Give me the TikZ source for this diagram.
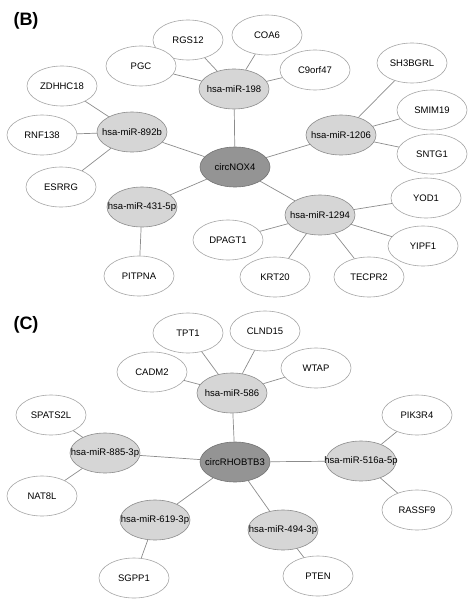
\documentclass[tikz,border=0pt]{standalone}
\usepackage{fontspec}
\setmainfont{Liberation Sans}
\usetikzlibrary{shapes.geometric}

\begin{document}
\begin{tikzpicture}[
    x=1pt, y=-1pt,
    font=\fontsize{9.5}{11}\selectfont,
    basenode/.style={ellipse, minimum width=70pt, minimum height=40pt, inner sep=0pt, line width=0.6pt},
    leaf/.style={basenode, fill=white, draw=black!35},
    mirna/.style={basenode, fill=black!16, draw=black!45},
    circ/.style={basenode, fill=black!42, draw=black!55},
    link/.style={draw=black!45, line width=0.7pt},
    paneltag/.style={font=\bfseries\fontsize{18}{21}\selectfont},
]
\useasboundingbox (0,0) rectangle (474,607);

% ===== Panel (B) =====
\node[paneltag] (tagB) at (26,21) {(B)};
\node[circ] (cnox) at (235,167) {\makebox[0pt]{circNOX4}};

% miRNA ring
\foreach \n/\x/\y/\t in {m198/234/89/hsa-miR-198, m892b/132/132/hsa-miR-892b,
                         m1206/341/135/hsa-miR-1206, m431/142/207/hsa-miR-431-5p,
                         m1294/320/215/hsa-miR-1294} {
    \node[mirna] (\n) at (\x,\y) {\makebox[0pt]{\t}};
    \draw[link] (cnox) -- (\n);
}

% target genes
\foreach \n/\x/\y/\p in {RGS12/188/40/m198, COA6/267/35/m198, PGC/141/66/m198,
                         C9orf47/315/70/m198, ZDHHC18/62/86/m892b, RNF138/42/135/m892b,
                         ESRRG/61/187/m892b, SH3BGRL/412/63/m1206, SMIM19/432/110/m1206,
                         SNTG1/432/154/m1206, PITPNA/139/276/m431, YOD1/426/198/m1294,
                         YIPF1/423/246/m1294, DPAGT1/228/240/m1294, KRT20/275/277/m1294,
                         TECPR2/369/277/m1294} {
    \node[leaf] (\n) at (\x,\y) {\n};
    \draw[link] (\p) -- (\n);
}

% ===== Panel (C) =====
\node[paneltag] (tagC) at (26,325) {(C)};
\node[circ] (crhob) at (235,462) {\makebox[0pt]{circRHOBTB3}};

\foreach \n/\x/\y/\t in {m586/232/393/hsa-miR-586, m885/105/453/hsa-miR-885-3p,
                         m516a/361/461/hsa-miR-516a-5p, m619/155/520/hsa-miR-619-3p,
                         m494/283/530/hsa-miR-494-3p} {
    \node[mirna] (\n) at (\x,\y) {\makebox[0pt]{\t}};
    \draw[link] (crhob) -- (\n);
}

\foreach \n/\x/\y/\p in {TPT1/188/333/m586, CLND15/265/331/m586, CADM2/152/372/m586,
                         WTAP/316/368/m586, SPATS2L/51/415/m885, NAT8L/42/496/m885,
                         PIK3R4/417/415/m516a, RASSF9/417/510/m516a, SGPP1/134/578/m619,
                         PTEN/318/576/m494} {
    \node[leaf] (\n) at (\x,\y) {\n};
    \draw[link] (\p) -- (\n);
}

\end{tikzpicture}
\end{document}
